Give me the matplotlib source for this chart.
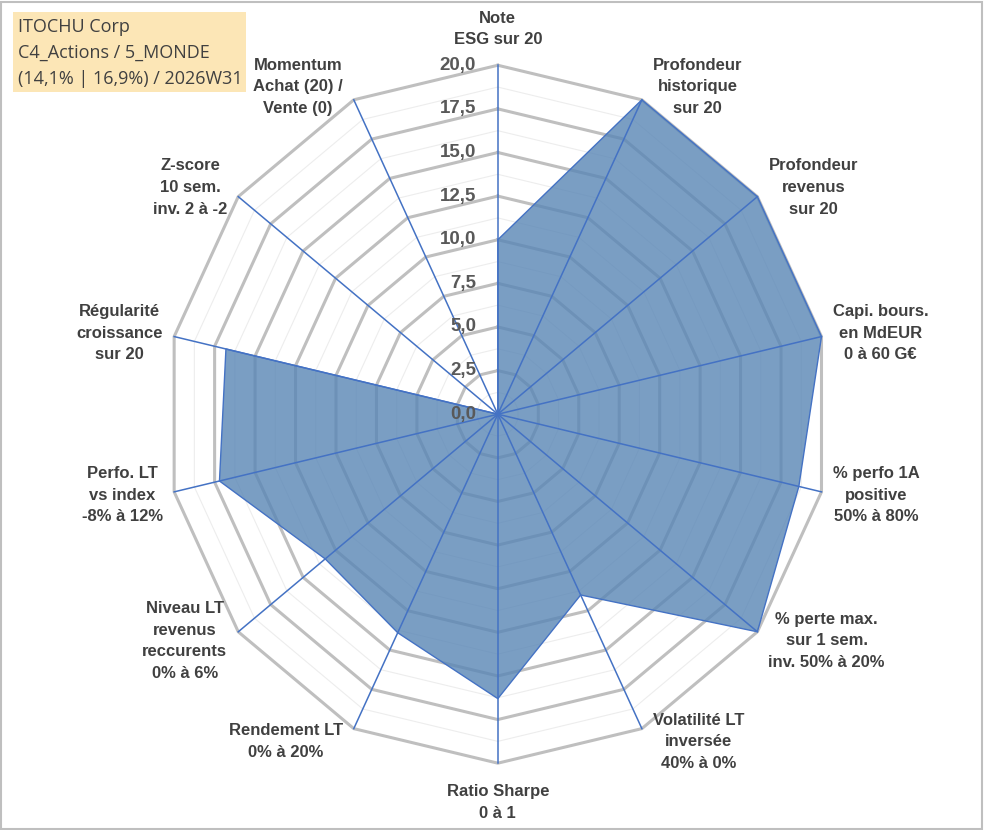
import numpy as np
import matplotlib.pyplot as plt
from matplotlib.patches import Rectangle

plt.rcParams['font.family'] = ['Liberation Sans', 'DejaVu Sans']

labels = [
    'Note\nESG sur 20',
    'Profondeur\nhistorique\nsur 20',
    'Profondeur\nrevenus\nsur 20',
    'Capi. bours.\nen MdEUR\n0 à 60 G€',
    '% perfo 1A\npositive\n50% à 80%',
    '% perte max.\nsur 1 sem.\ninv. 50% à 20%',
    'Volatilité LT\ninversée\n40% à 0%',
    'Ratio Sharpe\n0 à 1',
    'Rendement LT\n0% à 20%',
    'Niveau LT\nrevenus\nreccurents\n0% à 6%',
    'Perfo. LT\nvs index\n-8% à 12%',
    'Régularité\ncroissance\nsur 20',
    'Z-score\n10 sem.\ninv. 2 à -2',
    'Momentum\nAchat (20) /\nVente (0)',
]
scores = [10.0, 20.0, 20.0, 20.0, 18.6, 20.0, 11.5, 16.3, 13.9, 13.3, 17.2, 16.8, 0.0, 0.0]
ticks = np.arange(0, 20.01, 2.5)
tick_labels = [f'{t:.1f}'.replace('.', ',') for t in ticks]
title_lines = ['ITOCHU Corp', 'C4_Actions / 5_MONDE', '(14,1% | 16,9%) / 2026W31']
rmax = 20.0

n = len(labels)
theta = np.arange(n) * 2 * np.pi / n
sx, sy = np.sin(theta), np.cos(theta)
cx, cy = np.append(sx, sx[0]), np.append(sy, sy[0])

fig = plt.figure(figsize=(9.91, 8.30), dpi=100)
ax = fig.add_axes([0, 0, 1, 1])
ax.set_xlim(-29.99, 29.71)
ax.set_ylim(-23.83, 23.74)
ax.axis('off')

# grille : anneaux mineurs puis majeurs (polygones comme Excel)
for r in np.arange(1.25, rmax + 0.01, 2.5):
    ax.plot(r * cx, r * cy, color='#EDEDED', lw=0.8, zorder=1)
for r in ticks[1:]:
    ax.plot(r * cx, r * cy, color='#BFBFBF', lw=2.2, zorder=2, solid_joinstyle='miter')

# série
v = np.array(scores)
px = np.append(v * sx, v[0] * sx[0])
py = np.append(v * sy, v[0] * sy[0])
ax.fill(px, py, color='#5986B5', alpha=0.8, lw=0, zorder=3)
ax.plot(px, py, color='#4472C4', lw=1.0, zorder=5)

# rayons
for i in range(n):
    ax.plot([0, rmax * sx[i]], [0, rmax * sy[i]], color='#4472C4', lw=1.1, zorder=4)

# graduations sur l'axe du haut
for t, lab in zip(ticks, tick_labels):
    ax.text(-1.3, t, lab, ha='right', va='center', fontsize=13.5, fontweight='bold',
            color='#595959', zorder=6)

# étiquettes des catégories
for i, lab in enumerate(labels):
    s, c = sx[i], sy[i]
    if abs(s) < 0.05:
        ha = 'center'
        va = 'bottom' if c > 0 else 'top'
        off = (0, 13 if c > 0 else -15)
    else:
        ha = 'left' if s > 0 else 'right'
        va = 'center'
        off = (8 * np.sign(s), 10.5 * c)
    ax.annotate(lab, xy=(rmax * s, rmax * c), xytext=off, textcoords='offset points',
                ha=ha, va=va, multialignment='center', fontsize=12, fontweight='bold',
                color='#404040', linespacing=1.55, zorder=6)

# cartouche titre
fig.patches.append(Rectangle((13 / 991, 1 - 92 / 830), 233 / 991, 80 / 830,
                             transform=fig.transFigure, facecolor='#FCE6B6',
                             edgecolor='none', zorder=0))
for k, line in enumerate(title_lines):
    fig.text(18 / 991, 1 - (27 + 26 * k) / 830, line, ha='left', va='center',
             fontsize=13, color='#404040', family=['Open Sans', 'DejaVu Sans'])

# cadre
fig.patches.append(Rectangle((1 / 991, 1 / 830), 981 / 991, 827 / 830,
                             transform=fig.transFigure, facecolor='none',
                             edgecolor='#BFBFBF', lw=1.5))

fig.savefig('out.png', dpi=100)
